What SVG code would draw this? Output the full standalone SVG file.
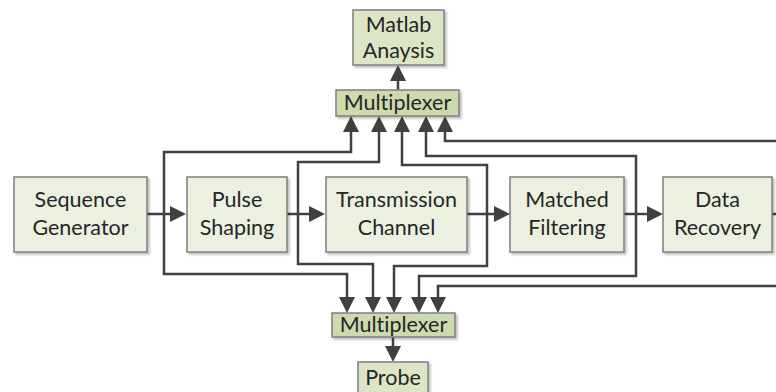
<svg xmlns="http://www.w3.org/2000/svg" width="776" height="392" viewBox="0 0 776 392">
<style>
.box{stroke:#7f7f7f;stroke-width:1.5;filter:url(#sh)}
.main{fill:#ebf0df}
.lite{fill:#dce6c6}
.mux{fill:#cddaae}
.t{font-family:Lato,"Liberation Sans",sans-serif;font-size:21.5px;fill:#262626;text-anchor:middle;font-variant-ligatures:none}
.c{fill:none;stroke:#404040;stroke-width:2.5}
</style>
<defs>
<filter id="sh" x="-10%" y="-10%" width="130%" height="140%">
<feDropShadow dx="2" dy="2" stdDeviation="1.2" flood-color="#000" flood-opacity="0.25"/>
</filter>
<marker id="ah" markerUnits="userSpaceOnUse" markerWidth="16" markerHeight="16" refX="9" refY="8" orient="auto" viewBox="0 0 16 16">
<path d="M0,0 L16,8 L0,16 z" fill="#404040"/>
</marker>
</defs>
<rect width="776" height="392" fill="#fff"/>
<g id="connectors">
<path class="c" d="M147,214 H179" marker-end="url(#ah)"/>
<path class="c" d="M287,214 H318" marker-end="url(#ah)"/>
<path class="c" d="M467,214 H503" marker-end="url(#ah)"/>
<path class="c" d="M624,214 H656" marker-end="url(#ah)"/>
<path class="c" d="M772,214 H776"/>
<path class="c" d="M164,214 V152 H351 V123" marker-end="url(#ah)"/>
<path class="c" d="M164,214 V274 H347 V306" marker-end="url(#ah)"/>
<path class="c" d="M298,214 V162 H379 V123" marker-end="url(#ah)"/>
<path class="c" d="M298,214 V264 H373 V306" marker-end="url(#ah)"/>
<path class="c" d="M487,214 V165 H402 V123" marker-end="url(#ah)"/>
<path class="c" d="M487,214 V266 H394 V306" marker-end="url(#ah)"/>
<path class="c" d="M636,214 V156 H426 V123" marker-end="url(#ah)"/>
<path class="c" d="M636,214 V276 H419 V306" marker-end="url(#ah)"/>
<path class="c" d="M776,141 H445 V123" marker-end="url(#ah)"/>
<path class="c" d="M776,286 H438 V306" marker-end="url(#ah)"/>
<path class="c" d="M398,90 V72" marker-end="url(#ah)"/>
<path class="c" d="M393,337 V355" marker-end="url(#ah)"/>
</g>
<g id="seqgen">
<rect class="box main" x="14" y="177" width="133" height="75"/>
<text class="t" x="80.5" y="207">Sequence</text>
<text class="t" x="80.5" y="235">Generator</text>
</g>
<g id="pulse">
<rect class="box main" x="187" y="177" width="100" height="75"/>
<text class="t" x="237" y="207">Pulse</text>
<text class="t" x="237" y="235">Shaping</text>
</g>
<g id="channel">
<rect class="box main" x="326" y="177" width="141" height="75"/>
<text class="t" x="396.5" y="207">Transmission</text>
<text class="t" x="396.5" y="235">Channel</text>
</g>
<g id="matched">
<rect class="box main" x="510" y="177" width="114" height="75"/>
<text class="t" x="567" y="207">Matched</text>
<text class="t" x="567" y="235">Filtering</text>
</g>
<g id="recovery">
<rect class="box main" x="663" y="177" width="109" height="75"/>
<text class="t" x="717.5" y="207">Data</text>
<text class="t" x="717.5" y="235">Recovery</text>
</g>
<g id="matlab">
<rect class="box lite" x="353" y="10" width="91" height="55"/>
<text class="t" x="398.5" y="32">Matlab</text>
<text class="t" x="398.5" y="58">Anaysis</text>
</g>
<g id="mux-top">
<rect class="box mux" x="336" y="90" width="123" height="26"/>
<text class="t" x="397.5" y="110">Multiplexer</text>
</g>
<g id="mux-bottom">
<rect class="box mux" x="332" y="313" width="123" height="24"/>
<text class="t" x="393.5" y="332">Multiplexer</text>
</g>
<g id="probe">
<rect class="box lite" x="358" y="362" width="70" height="40"/>
<text class="t" x="393" y="385">Probe</text>
</g>
</svg>
